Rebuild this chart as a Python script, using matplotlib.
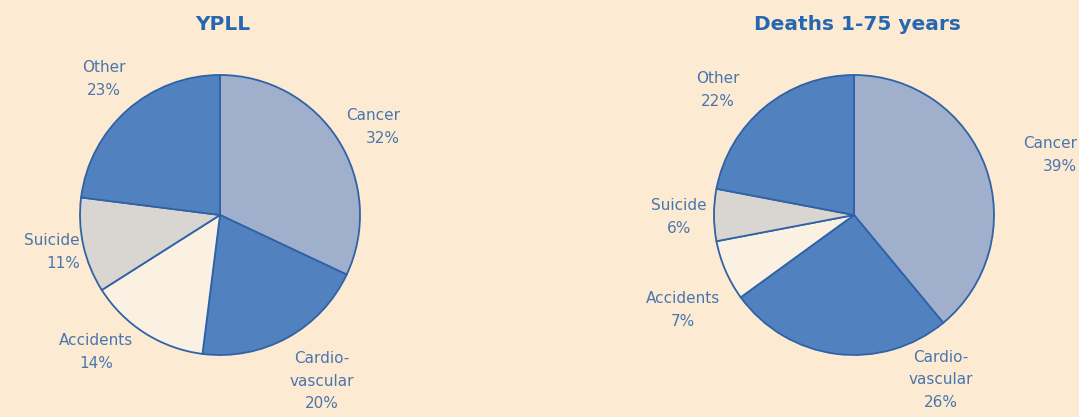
import matplotlib
matplotlib.use("Agg")
import matplotlib.pyplot as plt

# causes of death, share in percent (clockwise from 12 o'clock)
causes = ["Cancer", "Cardio-\nvascular", "Accidents", "Suicide", "Other"]
ypll_pct = [32, 20, 14, 11, 23]
deaths_pct = [39, 26, 7, 6, 22]
titles = ["YPLL", "Deaths 1-75 years"]

bg = "#FCEBD2"
edge = "#2F62A6"
txt = "#4A76AE"
slice_colors = ["#A0B0CC", "#5181BF", "#FBF1E3", "#D9D6D2", "#5181BF"]

H = 417  # figure height in pixels, text positions are given top-down

fig = plt.figure(figsize=(10.79, 4.17), dpi=100, facecolor=bg)
ax = fig.add_axes([0, 0, 1, 1])
ax.set_facecolor(bg)

# pie centres / radius in pixel units
centres = [(220, H - 215), (854, H - 215)]
radius = 140

# label anchor points (x, y from top, ha) for each cause
label_pos = [
    [(400, 127, "right"), (322, 381, "center"), (96, 352, "center"), (80, 252, "right"), (104, 79, "center")],
    [(1077, 155, "right"), (941, 380, "center"), (683, 310, "center"), (679, 217, "center"), (718, 90, "center")],
]

for i, vals in enumerate([ypll_pct, deaths_pct]):
    ax.pie(vals, colors=slice_colors, startangle=90, counterclock=False,
           center=centres[i], radius=radius,
           wedgeprops=dict(edgecolor=edge, linewidth=1.3))
    ax.text(centres[i][0] + 3, H - 24, titles[i], ha="center", va="center",
            fontsize=14.5, fontweight="bold", color="#2567B1", family="DejaVu Sans")
    for name, v, (x, y, ha) in zip(causes, vals, label_pos[i]):
        ax.text(x, H - y, f"{name}\n{v}%", ha=ha, va="center", color=txt,
                fontsize=11, linespacing=1.65, multialignment="center" if ha == "center" else "right",
                family="DejaVu Sans")

ax.set_xlim(0, 1079)
ax.set_ylim(0, H)
ax.set_aspect("equal")
ax.axis("off")

fig.savefig("out.png", dpi=100, facecolor=bg)
